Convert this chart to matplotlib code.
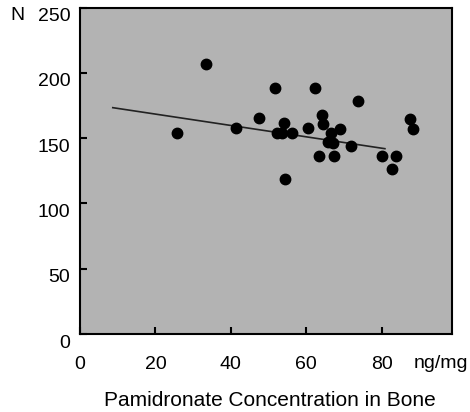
import matplotlib
matplotlib.use("Agg")
import matplotlib.pyplot as plt
import matplotlib.transforms as mtransforms

# Data
conc_x = [25.8, 33.3, 41.5, 47.4, 51.8, 52.3, 53.5, 54.1, 54.5, 56.3,
          60.5, 62.3, 63.3, 64.1, 64.4, 65.7, 66.5, 67.2, 67.5, 69.0,
          71.8, 73.7, 80.2, 82.7, 83.8, 87.5, 88.4]
n_y = [154.2, 206.5, 157.7, 165.4, 188.7, 153.9, 153.9, 161.8, 118.9, 153.9,
       157.7, 188.4, 136.5, 167.7, 161.1, 147.0, 153.9, 146.2, 136.5, 157.2,
       143.9, 178.4, 136.2, 126.0, 136.2, 164.9, 157.2]
fit_x = [8.7, 80.9]
fit_y = [173.3, 141.9]
x_ticks = [0, 20, 40, 60, 80]
y_ticks = [0, 50, 100, 150, 200, 250]

plt.rcParams['font.family'] = ['Liberation Sans', 'DejaVu Sans']

fig = plt.figure(figsize=(4.70, 4.12), dpi=100)
ax = fig.add_axes([80/470, 1-334/412, (452-80)/470, (334-7.5)/412])
ax.set_facecolor('#b3b3b3')

ax.plot(fit_x, fit_y, color='#222222', lw=1.2, zorder=2)
ax.plot(conc_x, n_y, 'o', color='black', markersize=7.5, zorder=3)

ax.set_xlim(0, 98.7)
ax.set_ylim(0, 250)
ax.set_xticks(x_ticks)
ax.set_yticks(y_ticks)
ax.set_xticklabels([str(v) for v in x_ticks])
ax.set_yticklabels([str(v) for v in y_ticks])
ax.tick_params(direction='in', length=5, width=1.5, labelsize=14, color='black')
ax.tick_params(axis='x', pad=16)
ax.tick_params(axis='y', pad=7)
for s in ax.spines.values():
    s.set_linewidth(1.5)
    s.set_color('black')

offset = mtransforms.ScaledTranslation(0, -7/100, fig.dpi_scale_trans)
for lab in ax.get_yticklabels():
    lab.set_transform(lab.get_transform() + offset)

ax.set_xlabel('Pamidronate Concentration in Bone', fontsize=15)
ax.xaxis.set_label_coords((270-80)/(452-80), -(400-334)/(334-7.5), transform=ax.transAxes)
ax.xaxis.label.set_va('center')

fig.text(17/470, 1-15/412, 'N', fontsize=14, ha='center', va='center')
fig.text(441/470, 1-363/412, 'ng/mg', fontsize=14, ha='center', va='center')

fig.savefig('out.png', dpi=100, facecolor='white')
